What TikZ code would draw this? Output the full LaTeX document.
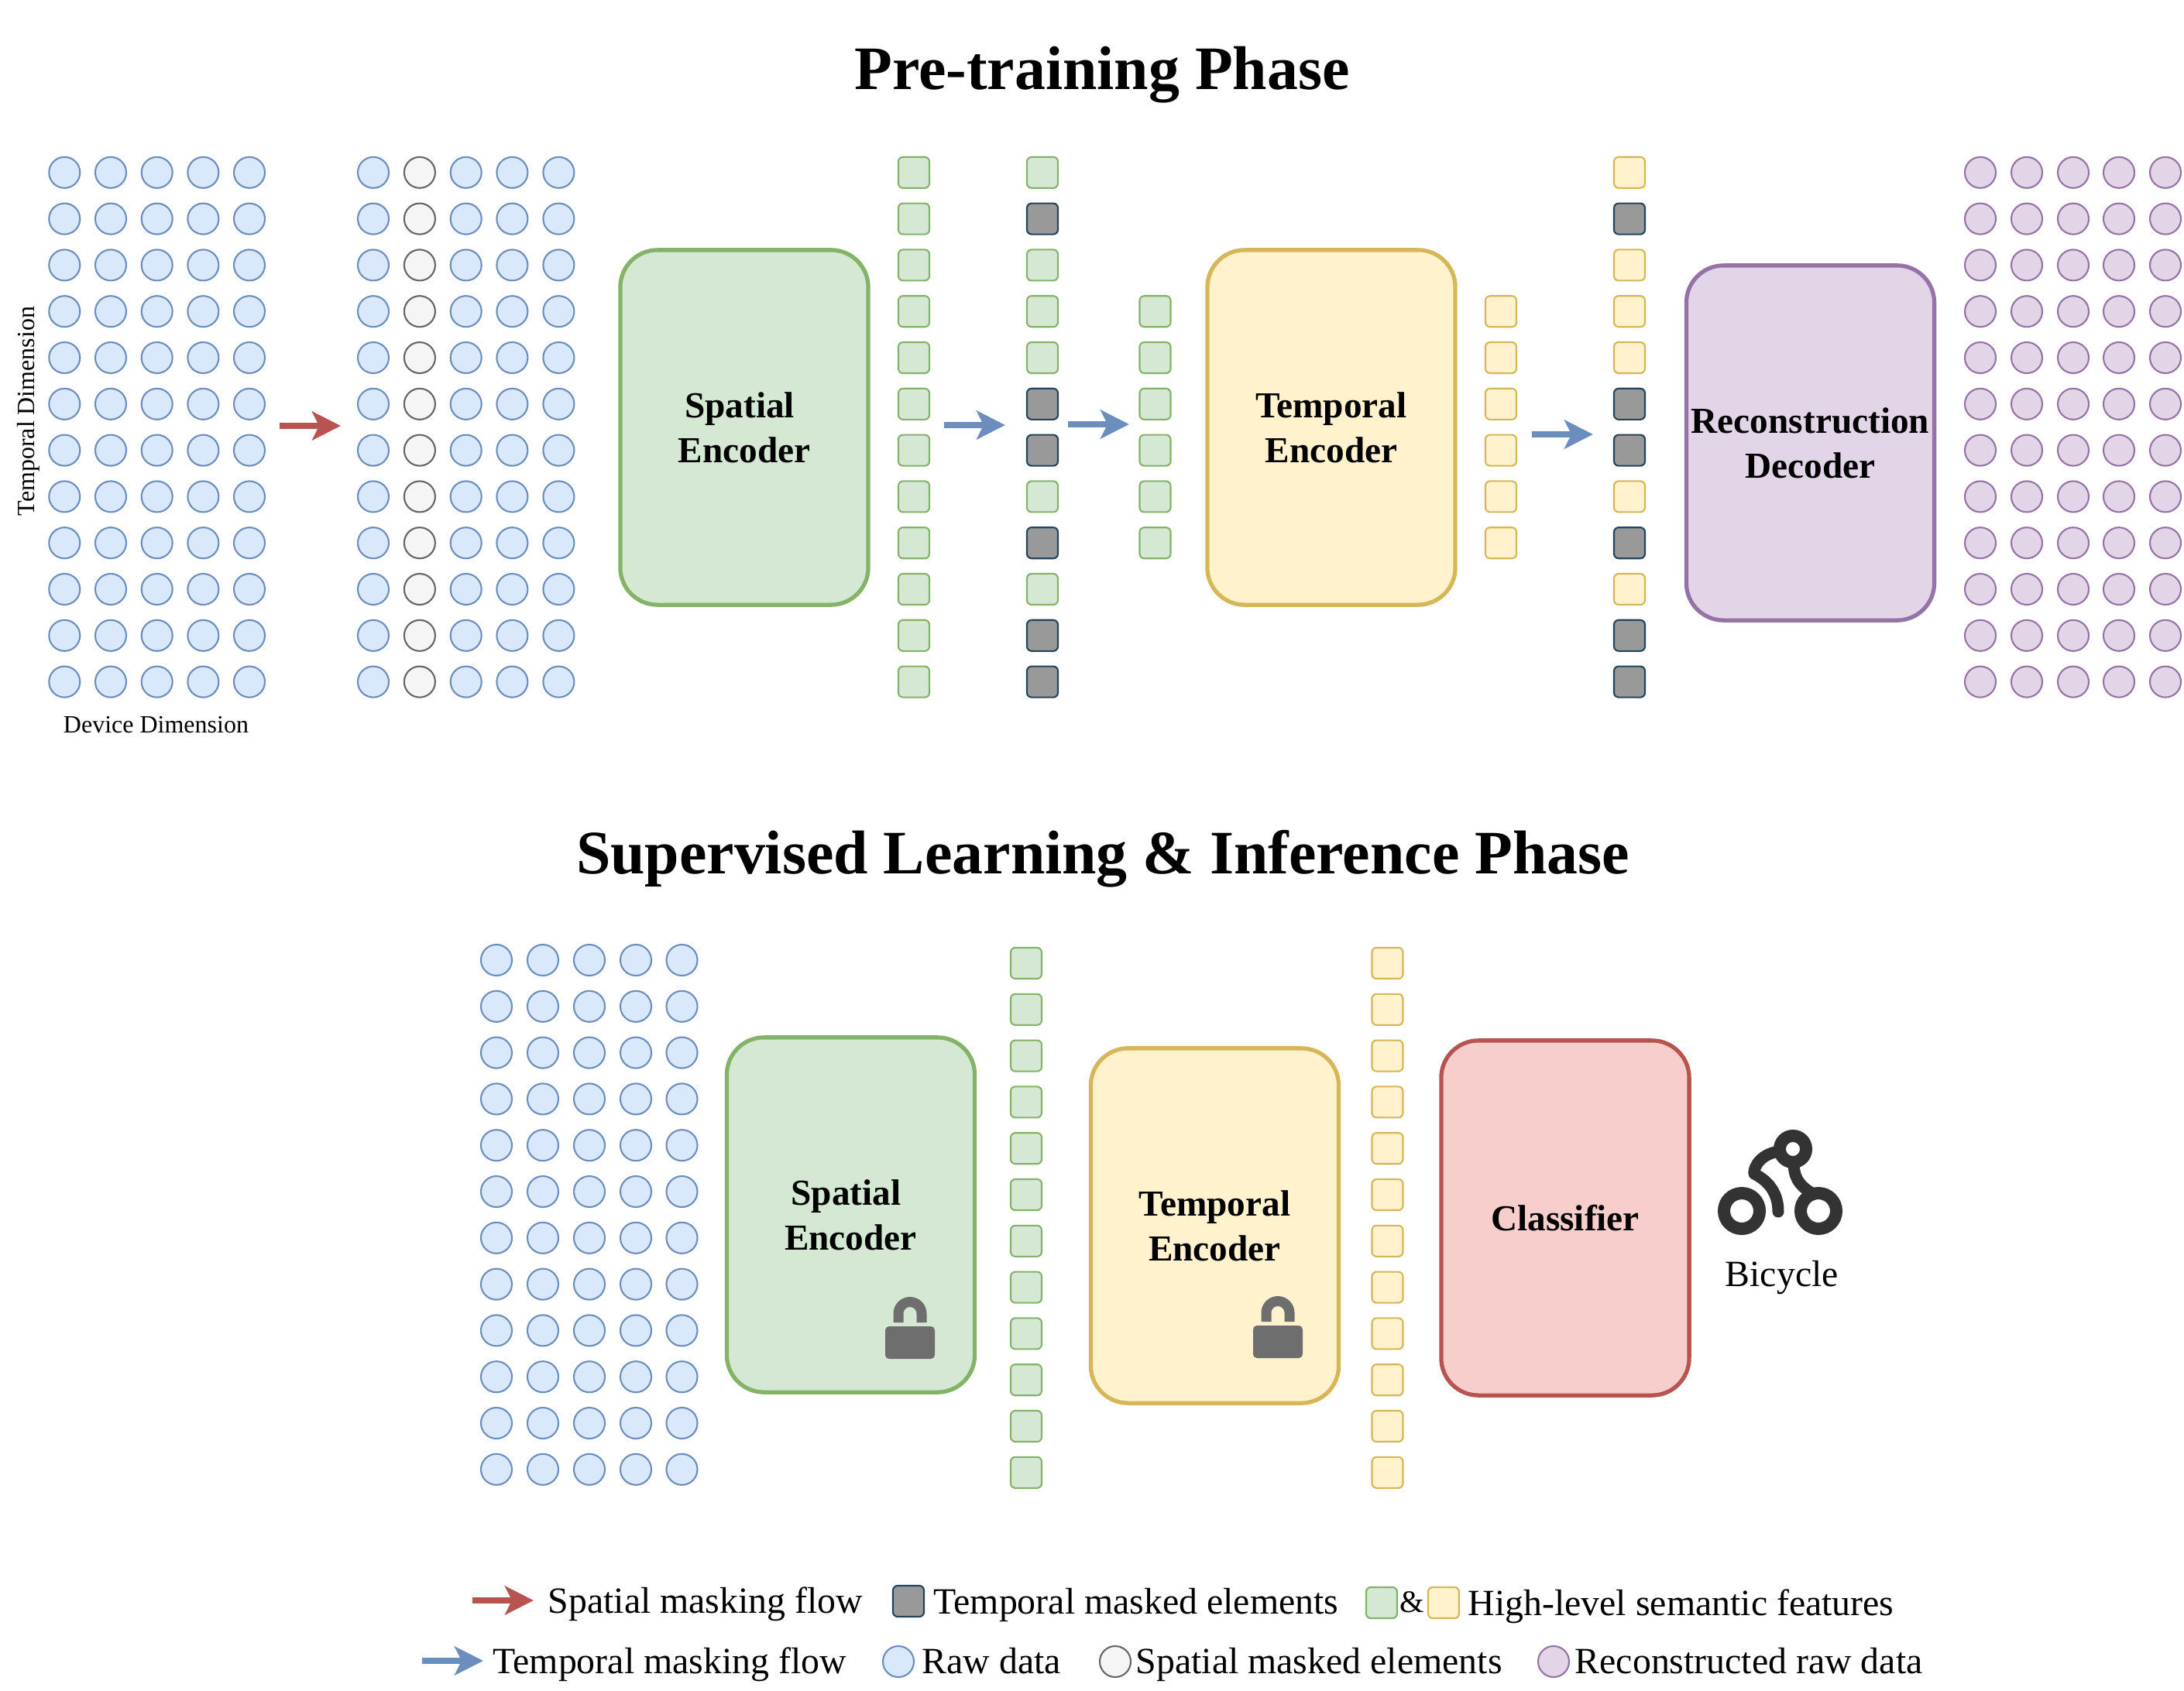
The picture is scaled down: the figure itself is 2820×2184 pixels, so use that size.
\documentclass[tikz,border=0pt]{standalone}
\usepackage{fontspec}
\setmainfont{Liberation Serif}
\usetikzlibrary{arrows.meta}
\definecolor{rawfill}{HTML}{DAE8FC}
\definecolor{rawline}{HTML}{6C8EBF}
\definecolor{spmfill}{HTML}{F5F5F5}
\definecolor{spmline}{HTML}{666666}
\definecolor{recfill}{HTML}{E1D5E7}
\definecolor{recline}{HTML}{9673A6}
\definecolor{grnfill}{HTML}{D5E8D4}
\definecolor{grnline}{HTML}{82B366}
\definecolor{yelfill}{HTML}{FFF2CC}
\definecolor{yelline}{HTML}{D6B656}
\definecolor{redfill}{HTML}{F8CECC}
\definecolor{redline}{HTML}{B85450}
\definecolor{tmpfill}{HTML}{999999}
\definecolor{tmpline}{HTML}{23445D}
\definecolor{icongray}{HTML}{6E6E6E}
\definecolor{bikegray}{HTML}{333333}
\tikzset{
	dot/.style={circle,minimum size=0.4cm,inner sep=0pt,line width=0.6pt},
	rawdot/.style={dot,draw=rawline,fill=rawfill},
	spmdot/.style={dot,draw=spmline,fill=spmfill},
	recdot/.style={dot,draw=recline,fill=recfill},
	sq/.style={rectangle,rounded corners=0.06cm,minimum size=0.4cm,inner sep=0pt,line width=0.6pt},
	grnsq/.style={sq,draw=grnline,fill=grnfill},
	yelsq/.style={sq,draw=yelline,fill=yelfill},
	tmpsq/.style={sq,draw=tmpline,fill=tmpfill},
	bigbox/.style={rectangle,rounded corners=0.48cm,minimum width=3.2cm,minimum height=4.58cm,inner sep=0pt,line width=1.5pt,align=center,font=\fontsize{13.45pt}{16.4pt}\selectfont\bfseries},
	heading/.style={inner sep=0pt,font=\fontsize{22.7pt}{26pt}\selectfont\bfseries},
	keytext/.style={anchor=base west,inner sep=0pt,font=\fontsize{13.6pt}{16pt}\selectfont},
	dimtext/.style={inner sep=0pt,font=\fontsize{9.1pt}{11pt}\selectfont},
	redflow/.style={draw=redline,line width=0.08cm,-{Stealth[length=0.37cm,width=0.37cm,inset=0.09cm]}},
	blueflow/.style={draw=rawline,line width=0.08cm,-{Stealth[length=0.37cm,width=0.37cm,inset=0.09cm]}},
	lockicon/.pic={
		\fill[icongray,rounded corners=0.05cm] (-32,0) rectangle (32,42);
		\draw[icongray,line width=0.13cm] (-15,-5) -- (-15,-16.5) arc[start angle=180,end angle=360,radius=15] -- (15,-5);
	}
}
\begin{document}
\begin{tikzpicture}[x=0.01cm,y=-0.01cm]
	\useasboundingbox (0,0) rectangle (2820,2184);
	% titles
	\node[heading] (pretitle) at (1423,97) {Pre-training Phase};
	\node[heading] (suptitle) at (1424,1109) {Supervised Learning \& Inference Phase};
	% pre-training
	\foreach \c/\x in {1/83.3,2/143,3/202.7,4/262.4,5/322} \foreach \r in {0,...,11}
		\node[rawdot] (raw\c-\r) at (\x,{222.8+59.8*\r}) {};
	\foreach \c/\x in {1/482,3/601.7,4/661.4,5/721.4} \foreach \r in {0,...,11}
		\node[rawdot] (spm\c-\r) at (\x,{222.8+59.8*\r}) {};
	\foreach \r in {0,...,11}
		\node[spmdot] (spm2-\r) at (541.9,{222.8+59.8*\r}) {};
	\node[dimtext,rotate=90] (tempdim) at (37,531) {Temporal Dimension};
	\node[dimtext] (devdim) at (201.5,936) {Device Dimension};
	\coordinate (redA) at (361,550);
	\coordinate (redB) at (440,550);
	\draw[redflow] (redA) -- (redB);
	\node[bigbox,draw=grnline,fill=grnfill] (spatial) at (961,552) {Spatial\hspace*{0.25em}\\Encoder};
	\foreach \r in {0,...,11}
		\node[grnsq] (fa\r) at (1180,{222.8+59.8*\r}) {};
	\coordinate (blueA) at (1219,549);
	\coordinate (blueB) at (1298,549);
	\draw[blueflow] (blueA) -- (blueB);
	\foreach \r in {0,2,3,4,7,9}
		\node[grnsq] (fb\r) at (1346,{222.8+59.8*\r}) {};
	\foreach \r in {1,5,6,8,10,11}
		\node[tmpsq] (fb\r) at (1346,{222.8+59.8*\r}) {};
	\coordinate (blueC) at (1379,548);
	\coordinate (blueD) at (1458,548);
	\draw[blueflow] (blueC) -- (blueD);
	\foreach \r in {3,...,8}
		\node[grnsq] (fc\r) at (1491.5,{222.8+59.8*\r}) {};
	\node[bigbox,draw=yelline,fill=yelfill] (temporal) at (1719,552) {Temporal\\Encoder};
	\foreach \r in {3,...,8}
		\node[yelsq] (fd\r) at (1938,{222.8+59.8*\r}) {};
	\coordinate (blueE) at (1978,561);
	\coordinate (blueF) at (2057,561);
	\draw[blueflow] (blueE) -- (blueF);
	\foreach \r in {0,2,3,4,7,9}
		\node[yelsq] (fe\r) at (2104,{222.8+59.8*\r}) {};
	\foreach \r in {1,5,6,8,10,11}
		\node[tmpsq] (fe\r) at (2104,{222.8+59.8*\r}) {};
	\node[bigbox,draw=recline,fill=recfill] (decoder) at (2337.5,572) {Reconstruction\\Decoder};
	\foreach \c/\x in {1/2557,2/2617,3/2677,4/2736,5/2796} \foreach \r in {0,...,11}
		\node[recdot] (rec\c-\r) at (\x,{222.8+59.8*\r}) {};
	% supervised
	\foreach \c/\x in {1/641,2/701,3/761,4/821,5/880.5} \foreach \r in {0,...,11}
		\node[rawdot] (inp\c-\r) at (\x,{1240+59.8*\r}) {};
	\node[bigbox,draw=grnline,fill=grnfill] (spatialb) at (1098.5,1569) {Spatial\hspace*{0.25em}\\Encoder};
	\pic at (1175,1713) {lockicon};
	\foreach \r in {0,...,11}
		\node[grnsq] (ga\r) at (1325,{1244+59.8*\r}) {};
	\node[bigbox,draw=yelline,fill=yelfill] (temporalb) at (1568.5,1583) {Temporal\\Encoder};
	\pic at (1650,1712) {lockicon};
	\foreach \r in {0,...,11}
		\node[yelsq] (gb\r) at (1791.5,{1244+59.8*\r}) {};
	\node[bigbox,draw=redline,fill=redfill] (classifier) at (2021,1573) {Classifier};
	% bicycle
	\draw[bikegray,line width=0.16cm] (2249,1564) circle[radius=23] (2348,1564) circle[radius=23] (2315,1484) circle[radius=17];
	\draw[bikegray,line width=0.15cm,line cap=round,line join=round] (2292,1488) .. controls (2268,1494) and (2264,1512) .. (2265,1516) .. controls (2285,1526) and (2296,1542) .. (2296,1565);
	\draw[bikegray,line width=0.15cm] (2316,1500) .. controls (2316,1520) and (2322,1530) .. (2338,1540);
	\node[keytext] (bike) at (2227,1661) {Bicycle};
	% legend
	\coordinate (keyredA) at (610,2067);
	\coordinate (keyredB) at (689,2067);
	\draw[redflow] (keyredA) -- (keyredB);
	\node[keytext] (keya) at (707,2083) {Spatial masking flow};
	\node[tmpsq] (keysqa) at (1173,2068) {};
	\node[keytext] (keyb) at (1205,2084) {Temporal masked elements};
	\node[grnsq] (keysqb) at (1784,2070) {};
	\node[dimtext,font=\fontsize{11.5pt}{13pt}\selectfont] (keyand) at (1823,2069) {\&};
	\node[yelsq] (keysqc) at (1864,2070) {};
	\node[keytext] (keyc) at (1895,2086) {High-level semantic features};
	\coordinate (keyblueA) at (545,2145);
	\coordinate (keyblueB) at (624,2145);
	\draw[blueflow] (keyblueA) -- (keyblueB);
	\node[keytext] (keyd) at (636,2161) {Temporal masking flow};
	\node[rawdot] (keydota) at (1160,2146) {};
	\node[keytext] (keye) at (1190,2161) {Raw data};
	\node[spmdot] (keydotb) at (1440,2146) {};
	\node[keytext] (keyf) at (1466,2161) {Spatial masked elements};
	\node[recdot] (keydotc) at (2006,2146) {};
	\node[keytext] (keyg) at (2033,2161) {Reconstructed raw data};
\end{tikzpicture}
\end{document}
